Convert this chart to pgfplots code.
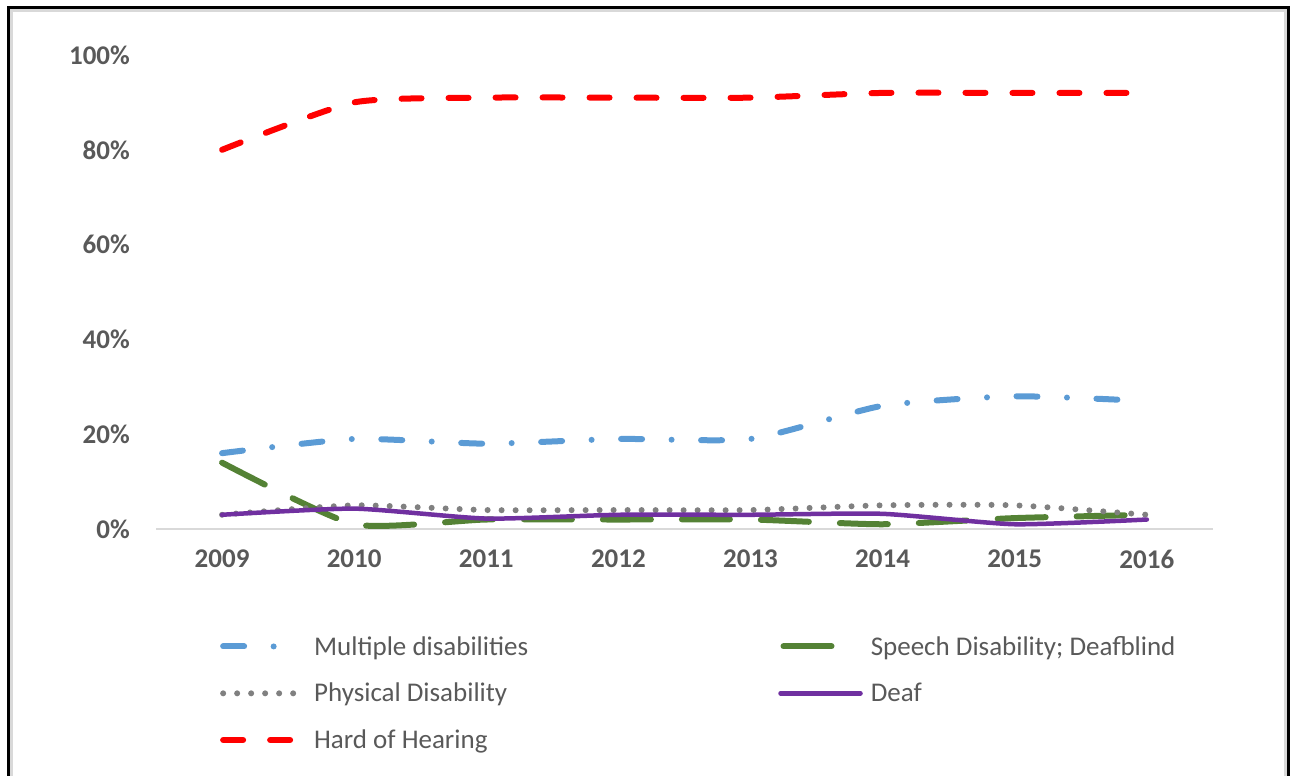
\documentclass[border=0pt]{standalone}
\usepackage{fontspec}
\setmainfont{Carlito}
\usepackage{pgfplots}
\pgfplotsset{compat=1.18}
\definecolor{tgray}{HTML}{595959}
\definecolor{mblue}{HTML}{5B9BD5}
\definecolor{sgreen}{HTML}{548235}
\definecolor{pgray}{HTML}{808080}
\definecolor{dpurple}{HTML}{7030A0}
\definecolor{hred}{HTML}{FF0000}
\definecolor{axgray}{HTML}{D9D9D9}
\pgfplotsset{greenleg/.style={legend image code/.code={\draw[sgreen, line width=6pt, line cap=round] (3pt,0pt) -- (55pt,0pt);}}}
\begin{document}
\begin{tikzpicture}
\useasboundingbox (0pt,0pt) rectangle (1290pt,776pt);
% frame
\draw[line width=3pt, axgray] (11.5pt,-5pt) -- (11.5pt,765.5pt) -- (1285pt,765.5pt) -- (1285pt,-5pt);
\draw[line width=3pt, black] (8pt,-5pt) -- (8pt,768.5pt) -- (1288pt,768.5pt) -- (1288pt,-5pt);
\begin{axis}[
  at={(156pt,247pt)}, anchor=south west,
  scale only axis, width=1057pt, height=474pt,
  xmin=-0.5, xmax=7.5, ymin=0, ymax=100,
  clip=false,
  axis x line*=bottom, axis y line*=left,
  y axis line style={draw=none},
  x axis line style={draw=axgray, line width=1.5pt},
  major tick length=0pt,
  xtick={0,1,2,3,4,5,6,7},
  xticklabels={2009,2010,2011,2012,2013,2014,2015,2016},
  ytick={0,20,40,60,80,100},
  yticklabels={0\%,20\%,40\%,60\%,80\%,100\%},
  tick label style={font=\fontsize{27}{31}\selectfont\bfseries, text=tgray, inner sep=0pt},
  xticklabel style={yshift=-21pt},
  yticklabel style={xshift=-26pt},
  legend columns=2,
  legend cell align=left,
  legend image code/.code={\draw[#1] (0pt,0pt) -- (80pt,0pt);},
  legend style={draw=none, fill=none, inner sep=0pt,
    at={(axis description cs:0.0605,-0.2215)}, anchor=north west,
    font=\fontsize{27}{31}\selectfont, text=tgray,
    nodes={inner sep=2pt},
    row sep=22.5pt,
    /tikz/every odd column/.append style={column sep=6pt},
    /tikz/every even column/.append style={column sep=248pt}},
]
\addplot[mblue, line width=6pt, line cap=round, smooth, tension=0.35, dash pattern=on 21pt off 29.5pt on 0pt off 29.5pt]
  coordinates {(0,16) (1,19) (2,18) (3,19) (4,19) (5,26) (6,28) (7,27)};
\addlegendentry{Multiple disabilities}
\addplot[sgreen, line width=6pt, line cap=round, smooth, tension=0.35, dash pattern=on 48pt off 31pt, greenleg]
  coordinates {(0,14) (1,1) (2,2) (3,2) (4,2) (5,1) (6,2.3) (7,3)};
\addlegendentry{Speech Disability; Deafblind}
\addplot[pgray, line width=6pt, line cap=round, smooth, tension=0.35, dash pattern=on 0pt off 14pt]
  coordinates {(0,3) (1,5) (2,4) (3,4) (4,4) (5,5) (6,5) (7,3)};
\addlegendentry{Physical Disability}
\addplot[dpurple, line width=4.5pt, line cap=round, smooth, tension=0.35]
  coordinates {(0,3) (1,4.3) (2,2.2) (3,3) (4,3) (5,3.2) (6,1) (7,2)};
\addlegendentry{Deaf}
\addplot[hred, line width=6pt, line cap=round, smooth, tension=0.35, dash pattern=on 20pt off 27pt]
  coordinates {(0,80) (1,90) (2,91) (3,91) (4,91) (5,92) (6,92) (7,92)};
\addlegendentry{Hard of Hearing}
\end{axis}
\end{tikzpicture}
\end{document}
